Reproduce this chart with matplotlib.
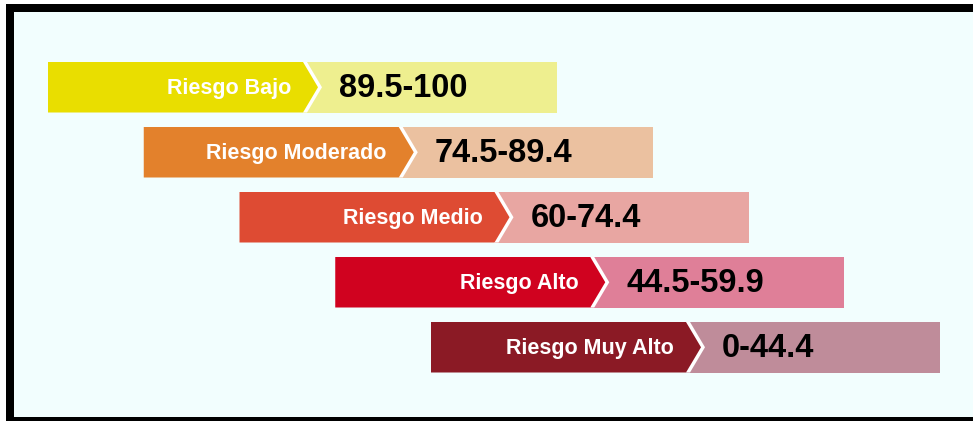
import matplotlib.pyplot as plt
from matplotlib.patches import Rectangle, Polygon

labels = ['Riesgo Bajo', 'Riesgo Moderado', 'Riesgo Medio', 'Riesgo Alto', 'Riesgo Muy Alto']
ranges = ['89.5-100', '74.5-89.4', '60-74.4', '44.5-59.9', '0-44.4']
dark_colors = ['#E9DE00', '#E3812C', '#DE4B33', '#D0021F', '#8B1A25']
light_colors = ['#EEEF8F', '#EBC1A0', '#E8A6A2', '#DF7F98', '#BF8C9A']

W, H = 973, 421
fig = plt.figure(figsize=(W / 100, H / 100), dpi=100, facecolor='white')
ax = fig.add_axes([0, 0, 1, 1])
ax.set_xlim(0, W)
ax.set_ylim(H, 0)
ax.axis('off')

# frame: black border on top, left, bottom, light background inside
ax.add_patch(Rectangle((6, 4), W, H, facecolor='black', edgecolor='none'))
ax.add_patch(Rectangle((14, 12), W, 405, facecolor='#F2FEFE', edgecolor='none'))

x_first, y_first = 48, 62
x_step, y_step = 95.75, 65
bar_h = 50.5
bar_w = 509
dark_w = 255
tip = 15
gap = 4

for i, (lab, rng) in enumerate(zip(labels, ranges)):
    x0 = x_first + i * x_step
    top = y_first + i * y_step
    bot = top + bar_h
    mid = (top + bot) / 2
    xd = x0 + dark_w
    ax.add_patch(Rectangle((xd, top), x0 + bar_w - xd, bar_h,
                           facecolor=light_colors[i], edgecolor='none'))
    ax.add_patch(Polygon([(xd, top), (xd + gap, top), (xd + gap + tip, mid),
                          (xd + gap, bot), (xd, bot)],
                         facecolor='white', edgecolor='none'))
    ax.add_patch(Polygon([(x0, top), (xd, top), (xd + tip, mid), (xd, bot), (x0, bot)],
                         facecolor=dark_colors[i], edgecolor='none'))
    ax.text(xd - 12, mid + 1.5, lab, color='white', fontsize=15.5, fontweight='bold',
            family=['Liberation Sans', 'DejaVu Sans'], ha='right', va='center')
    ax.text(xd + 36, mid + 1.5, rng, color='black', fontsize=23.5, fontweight='bold',
            family=['Liberation Sans', 'DejaVu Sans'], ha='left', va='center')

fig.savefig('out.png', dpi=100, facecolor='white')
